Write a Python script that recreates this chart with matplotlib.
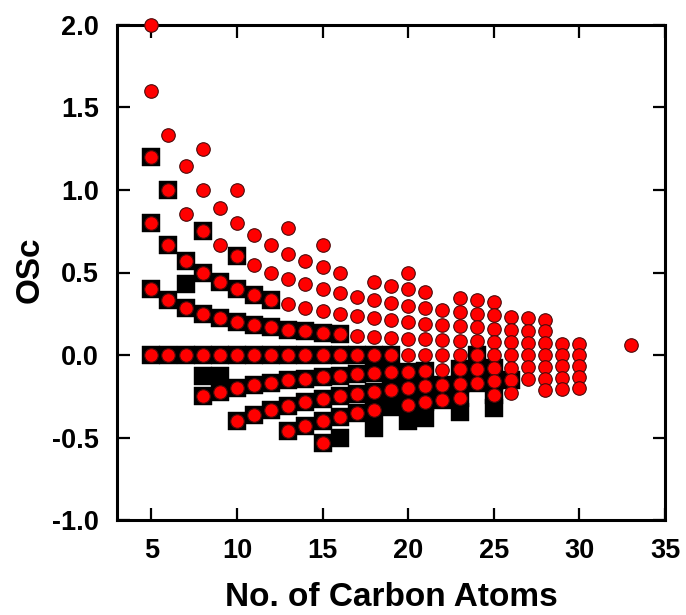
import matplotlib
matplotlib.use("Agg")
import matplotlib.pyplot as plt
import numpy as np

plt.rcParams['font.family'] = ['Liberation Sans', 'DejaVu Sans']
plt.rcParams['font.weight'] = 'bold'

# ---- data: red circles (carbon number -> OSc values) ----
circle_carbons = [5, 6, 7, 8, 9, 10, 11, 12, 13, 14, 15, 16, 17, 18, 19, 20,
                  21, 22, 23, 24, 25, 26, 27, 28, 29, 30, 33]
circle_osc = [
    [2.0, 1.6, 1.2, 0.8, 0.4, 0.0],
    [1.333, 1.0, 0.667, 0.333, 0.0],
    [1.143, 0.857, 0.571, 0.286, 0.0],
    [1.25, 1.0, 0.75, 0.5, 0.25, 0.0, -0.25],
    [0.889, 0.667, 0.444, 0.222, 0.0, -0.222],
    [1.0, 0.8, 0.6, 0.4, 0.2, 0.0, -0.2, -0.4],
    [0.727, 0.545, 0.364, 0.182, 0.0, -0.182, -0.364],
    [0.667, 0.5, 0.333, 0.167, 0.0, -0.167, -0.333],
    [0.769, 0.615, 0.462, 0.308, 0.154, 0.0, -0.154, -0.308, -0.462],
    [0.571, 0.429, 0.286, 0.143, 0.0, -0.143, -0.286, -0.429],
    [0.667, 0.533, 0.4, 0.267, 0.133, 0.0, -0.133, -0.267, -0.4, -0.533],
    [0.5, 0.375, 0.25, 0.125, 0.0, -0.125, -0.25, -0.375],
    [0.353, 0.235, 0.118, 0.0, -0.118, -0.235, -0.353],
    [0.444, 0.333, 0.222, 0.111, 0.0, -0.111, -0.222, -0.333],
    [0.421, 0.316, 0.211, 0.105, 0.0, -0.105, -0.211],
    [0.5, 0.4, 0.3, 0.2, 0.1, 0.0, -0.1, -0.2, -0.3],
    [0.381, 0.286, 0.190, 0.095, 0.0, -0.095, -0.190, -0.286],
    [0.273, 0.182, 0.091, 0.0, -0.091, -0.182, -0.273],
    [0.348, 0.261, 0.174, 0.087, 0.0, -0.087, -0.174, -0.261],
    [0.333, 0.25, 0.167, 0.083, 0.0, -0.083, -0.167],
    [0.32, 0.24, 0.16, 0.08, 0.0, -0.08, -0.16, -0.24],
    [0.231, 0.154, 0.077, 0.0, -0.077, -0.154, -0.231],
    [0.222, 0.148, 0.074, 0.0, -0.074, -0.148],
    [0.214, 0.143, 0.071, 0.0, -0.071, -0.143, -0.214],
    [0.069, 0.0, -0.069, -0.138, -0.207],
    [0.067, 0.0, -0.067, -0.133, -0.2],
    [0.06],
]

# ---- data: black squares (carbon number -> OSc values) ----
square_carbons = [5, 6, 7, 8, 9, 10, 11, 12, 13, 14, 15, 16, 17, 18, 19, 20,
                  21, 22, 23, 24, 25, 26]
square_osc = [
    [1.2, 0.8, 0.4, 0.0],
    [1.0, 0.667, 0.333, 0.0],
    [0.571, 0.429, 0.286, 0.0],
    [0.75, 0.5, 0.25, 0.0, -0.125, -0.25],
    [0.444, 0.222, 0.0, -0.125, -0.222],
    [0.6, 0.4, 0.2, 0.0, -0.2, -0.4],
    [0.364, 0.182, 0.0, -0.182, -0.364],
    [0.333, 0.167, 0.0, -0.167, -0.333],
    [0.154, 0.0, -0.154, -0.308, -0.462],
    [0.143, 0.0, -0.143, -0.286, -0.429],
    [0.133, 0.0, -0.133, -0.267, -0.4, -0.533],
    [0.125, 0.0, -0.125, -0.25, -0.375, -0.5],
    [0.0, -0.118, -0.235, -0.353],
    [0.0, -0.111, -0.222, -0.333, -0.444],
    [0.0, -0.105, -0.211, -0.316],
    [-0.1, -0.2, -0.3, -0.4],
    [-0.095, -0.190, -0.286, -0.381],
    [-0.182, -0.273],
    [-0.087, -0.174, -0.261, -0.348],
    [0.0, -0.083, -0.167],
    [-0.08, -0.16, -0.24, -0.32],
    [-0.154],
]

x_ticks = [5, 10, 15, 20, 25, 30, 35]
y_ticks = [-1.0, -0.5, 0.0, 0.5, 1.0, 1.5, 2.0]

cx = [c for c, vals in zip(circle_carbons, circle_osc) for _ in vals]
cy = [v for vals in circle_osc for v in vals]
sx = [c for c, vals in zip(square_carbons, square_osc) for _ in vals]
sy = [v for vals in square_osc for v in vals]

fig = plt.figure(figsize=(6.86, 6.15), dpi=100)
ax = fig.add_axes([117/686, 95/615, 548/686, 495/615])

ax.scatter(sx, sy, marker='s', s=165, c='black', edgecolors='black',
           linewidths=0.3, zorder=2, clip_on=False)
ax.scatter(cx, cy, marker='o', s=95, c='#ff0000', edgecolors='#4a0a0a',
           linewidths=0.8, zorder=3, clip_on=False)

ax.set_xlim(3, 35)
ax.set_ylim(-1, 2)
ax.set_xticks(x_ticks)
ax.set_xticklabels([str(t) for t in x_ticks])
ax.set_yticks(y_ticks)
ax.set_yticklabels([f"{t:.1f}" for t in y_ticks])
ax.tick_params(direction='in', length=9, width=1.6, top=True, right=True,
               labelsize=19.5, pad=13)
for lab in ax.get_xticklabels() + ax.get_yticklabels():
    lab.set_fontweight('bold')
for sp in ax.spines.values():
    sp.set_linewidth(2.2)

fig.text(391/686, 1 - 597/615, 'No. of Carbon Atoms', ha='center', va='center',
         fontsize=24, fontweight='bold')
fig.text(30/686, 1 - 270/615, 'OSc', ha='center', va='center', rotation=90,
         fontsize=24, fontweight='bold')

fig.savefig('out.png', dpi=100)
